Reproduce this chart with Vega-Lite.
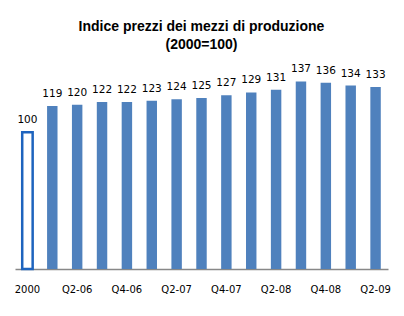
{
  "$schema": "https://vega.github.io/schema/vega-lite/v6.json",
  "width": 373,
  "height": 219,
  "autosize": {"type": "none"},
  "padding": {"left": 15, "top": 50, "right": 16, "bottom": 47},
  "background": "white",
  "title": {
    "text": ["Indice prezzi dei mezzi di produzione", "(2000=100)"],
    "font": "Liberation Sans",
    "fontSize": 14,
    "fontWeight": "bold",
    "color": "#000000",
    "anchor": "middle",
    "lineHeight": 18,
    "offset": -2
  },
  "config": {"view": {"stroke": null}},
  "data": {
    "values": [
      {"periodo": "2000", "indice": 100, "tipo": "base"},
      {"periodo": "Q1-06", "indice": 119, "tipo": "q"},
      {"periodo": "Q2-06", "indice": 120, "tipo": "q"},
      {"periodo": "Q3-06", "indice": 122, "tipo": "q"},
      {"periodo": "Q4-06", "indice": 122, "tipo": "q"},
      {"periodo": "Q1-07", "indice": 123, "tipo": "q"},
      {"periodo": "Q2-07", "indice": 124, "tipo": "q"},
      {"periodo": "Q3-07", "indice": 125, "tipo": "q"},
      {"periodo": "Q4-07", "indice": 127, "tipo": "q"},
      {"periodo": "Q1-08", "indice": 129, "tipo": "q"},
      {"periodo": "Q2-08", "indice": 131, "tipo": "q"},
      {"periodo": "Q3-08", "indice": 137, "tipo": "q"},
      {"periodo": "Q4-08", "indice": 136, "tipo": "q"},
      {"periodo": "Q1-09", "indice": 134, "tipo": "q"},
      {"periodo": "Q2-09", "indice": 133, "tipo": "q"}
    ]
  },
  "encoding": {
    "x": {
      "field": "periodo",
      "type": "nominal",
      "sort": null,
      "scale": {"paddingInner": 0.58, "paddingOuter": 0.29},
      "axis": {
        "title": null,
        "values": ["2000", "Q2-06", "Q4-06", "Q2-07", "Q4-07", "Q2-08", "Q4-08", "Q2-09"],
        "labelAngle": 0,
        "ticks": false,
        "domainColor": "#888888",
        "domainWidth": 1.5,
        "labelFont": "DejaVu Sans",
        "labelFontSize": 10,
        "labelColor": "#000000",
        "labelPadding": 15
      }
    },
    "y": {
      "field": "indice",
      "type": "quantitative",
      "scale": {"domain": [0, 160]},
      "axis": null
    }
  },
  "layer": [
    {
      "mark": {"type": "bar", "strokeWidth": 2.5},
      "encoding": {
        "fill": {
          "field": "tipo",
          "type": "nominal",
          "scale": {"domain": ["base", "q"], "range": ["#ffffff", "#4F81BD"]},
          "legend": null
        },
        "stroke": {
          "field": "tipo",
          "type": "nominal",
          "scale": {"domain": ["base", "q"], "range": ["#1E64BE", "transparent"]},
          "legend": null
        }
      }
    },
    {
      "mark": {"type": "text", "baseline": "bottom", "dy": -7, "font": "DejaVu Sans", "fontSize": 10.5, "color": "#000000"},
      "encoding": {"text": {"field": "indice", "type": "quantitative"}}
    }
  ]
}
